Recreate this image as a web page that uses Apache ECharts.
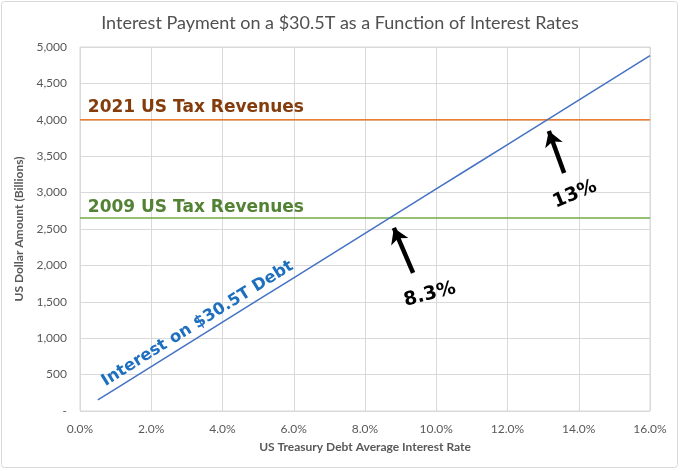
<!DOCTYPE html>
<html>
<head>
<meta charset="utf-8">
<script src="https://cdn.jsdelivr.net/npm/echarts@6/dist/echarts.min.js"></script>
<style>html,body{margin:0;padding:0;background:#fff}#c{width:680px;height:471px}</style>
</head>
<body>
<div id="c"></div>
<script>
// ---- data ----
const rates = [0.5, 1, 2, 3, 4, 5, 6, 7, 8, 9, 10, 11, 12, 13, 14, 15, 16];           // % interest rate
const interest = [153, 305, 610, 915, 1220, 1525, 1830, 2135, 2440, 2745, 3050, 3355, 3660, 3965, 4270, 4575, 4880]; // $B
const rev2021 = 4000;
const rev2009 = 2650;
const xTicks = ['0.0%','2.0%','4.0%','6.0%','8.0%','10.0%','12.0%','14.0%','16.0%'];
const yTicks = ['-','500','1,000','1,500','2,000','2,500','3,000','3,500','4,000','4,500','5,000'];
const title = 'Interest Payment on a $30.5T as a Function of Interest Rates';
// annotation anchors in data units [rate, $B]
const arrow83 = [[9.35, 1896], [8.81, 2514]];
const arrow13 = [[13.59, 3269], [13.16, 3846]];
const lbl83 = [9.82, 1600];
const lbl13 = [13.89, 2975];
const lblDebt = [3.3, 1200];
const lbl2021 = [0.22, 4170];
const lbl2009 = [0.22, 2790];

const GRAY = '#595959';
const AF = '"DejaVu Sans"';
const chart = echarts.init(document.getElementById('c'));
chart.setOption({
  animation: false,
  title: {
    text: title, left: 'center', top: 9,
    textStyle: {fontFamily: 'Lato', fontSize: 18, fontWeight: 'normal', color: '#505050'}
  },
  grid: {left: 80, right: 30, top: 47, bottom: 60, show: true, borderColor: '#D9D9D9', borderWidth: 1},
  xAxis: {
    type: 'value', min: 0, max: 16, interval: 2,
    name: 'US Treasury Debt Average Interest Rate', nameLocation: 'middle', nameGap: 30,
    nameTextStyle: {fontFamily: 'Lato', fontSize: 12, fontWeight: 'bold', color: GRAY},
    axisLine: {show: false}, axisTick: {show: false},
    axisLabel: {fontFamily: 'Lato', fontSize: 12, color: GRAY, margin: 12,
      formatter: v => xTicks[Math.round(v / 2)]},
    splitLine: {lineStyle: {color: '#D9D9D9', width: 1}}
  },
  yAxis: {
    type: 'value', min: 0, max: 5000, interval: 500,
    name: 'US Dollar Amount (Billions)', nameLocation: 'middle', nameGap: 53,
    nameTextStyle: {fontFamily: 'Lato', fontSize: 12, fontWeight: 'bold', color: GRAY},
    axisLine: {show: false}, axisTick: {show: false},
    axisLabel: {fontFamily: 'Lato', fontSize: 12, color: GRAY, margin: 13,
      formatter: v => yTicks[Math.round(v / 500)]},
    splitLine: {lineStyle: {color: '#D9D9D9', width: 1}}
  },
  series: [
    {type: 'line', data: [[0, rev2021], [16, rev2021]], showSymbol: false, silent: true,
      lineStyle: {color: '#ED7D31', width: 1.5}},
    {type: 'line', data: [[0, rev2009], [16, rev2009]], showSymbol: false, silent: true,
      lineStyle: {color: '#70AD47', width: 1.5}},
    {type: 'line', data: rates.map((r, i) => [r, interest[i]]), showSymbol: false, silent: true,
      lineStyle: {color: '#4472C4', width: 1.5},
      markLine: {
        silent: true, symbol: ['none', 'arrow'], symbolSize: [14, 15],
        label: {show: false},
        lineStyle: {color: '#000', width: 4.5, type: 'solid'},
        data: [
          [{coord: arrow83[0]}, {coord: arrow83[1]}],
          [{coord: arrow13[0]}, {coord: arrow13[1]}]
        ]
      }}
  ]
});

function px(p) { return chart.convertToPixel({gridIndex: 0}, p); }
function txt(p, s, color, size, rot, align) {
  const q = px(p);
  return {type: 'text', x: q[0], y: q[1], rotation: rot * Math.PI / 180, z: 100,
    style: {text: s, fill: color, font: 'bold ' + size + 'px ' + AF, align: align || 'center', verticalAlign: 'middle'}};
}
chart.setOption({
  graphic: [
    {type: 'rect', shape: {x: 1.5, y: 1.5, width: 676, height: 466, r: 3},
      style: {fill: 'none', stroke: '#D9D9D9', lineWidth: 1}, silent: true},
    txt(lbl2021, '2021 US Tax Revenues', '#843C0C', 17, 0, 'left'),
    txt(lbl2009, '2009 US Tax Revenues', '#548235', 17, 0, 'left'),
    txt(lblDebt, 'Interest on $30.5T Debt', '#1F6FBF', 16.5, 32, 'center'),
    txt(lbl83, '8.3%', '#000', 19, 14.5, 'center'),
    txt(lbl13, '13%', '#000', 19, 22.5, 'center')
  ]
});
</script>
</body>
</html>
